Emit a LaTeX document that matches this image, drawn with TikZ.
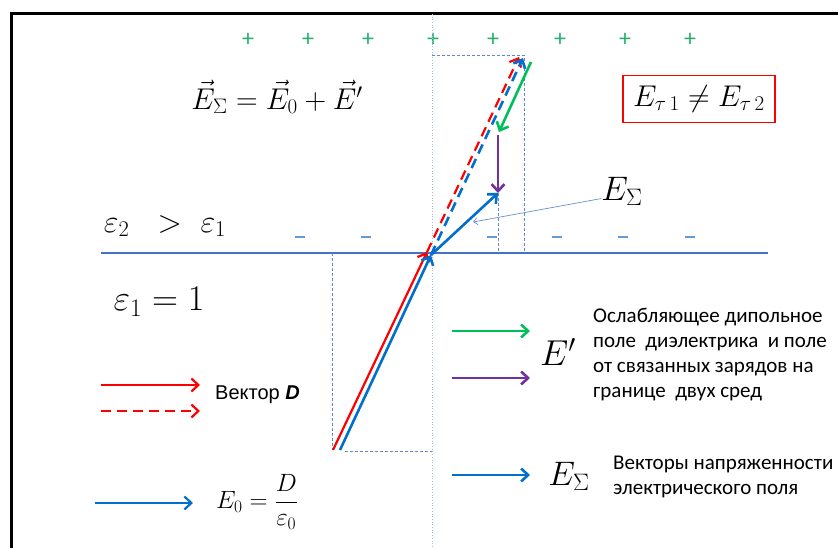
\RequirePackage{fix-cm}
\documentclass[tikz,border=0pt]{standalone}
\usepackage{fontspec}
\usepackage{amsmath}
\usetikzlibrary{arrows.meta,positioning}
\newfontfamily\calibfont{Carlito}
\newfontfamily\arialfont{Liberation Sans}
\definecolor{vecred}{RGB}{255,0,0}
\definecolor{vecblue}{RGB}{0,112,204}
\definecolor{vecgreen}{RGB}{0,190,90}
\definecolor{vecpurple}{RGB}{112,48,160}
\definecolor{lineblue}{RGB}{68,114,196}
\definecolor{plusgreen}{RGB}{40,175,110}
\definecolor{minusblue}{RGB}{100,155,215}

\begin{document}
\begin{tikzpicture}[x=1pt, y=-1pt,
    vec/.style={-{Straight Barb[length=7pt,width=13pt]}, line width=2.6pt},
    dvec/.style={vec, dash pattern=on 10pt off 6pt},
    guide/.style={lineblue!85, dash pattern=on 3pt off 2pt, line width=0.8pt},
    pointer/.style={-{Straight Barb[length=4pt,width=7pt]}, lineblue!80, line width=0.7pt},
    bigmath/.style={font=\fontsize{30}{36}\selectfont, inner sep=0pt},
    charge/.style={font=\calibfont\fontsize{24}{24}\selectfont, inner sep=0pt},
    legtext/.style={font=\calibfont\fontsize{21}{25}\selectfont, align=left, inner sep=0pt, anchor=north west}
]
\useasboundingbox (0,0) rectangle (838,548);
\draw[line width=3pt] (11,548) -- (11,14) -- (838,14);

% charges
\foreach \x in {248,308,368,433,493,560,625,690}
    \node[charge, plusgreen] (plus\x) at (\x,40) {+};
\foreach \x in {300,366,492,557,623,690}
    \draw[minusblue, line width=2pt] (\x-5,237) -- (\x+5,237);

% interface and normal
\draw[lineblue, line width=1.5pt] (101,253) -- (768,253);
\draw[lineblue!50, dotted, line width=0.7pt] (432,14) -- (432,548);

\coordinate (O) at (431,255);
\coordinate (Dmid) at (427,252);
\coordinate (Dbot) at (333,450);
\coordinate (Ebot) at (340,450);
\coordinate (Dtop) at (519,57);
\coordinate (Etop) at (523,58);
\coordinate (Gstart) at (531,62);
\coordinate (Gend) at (499,132);
\coordinate (Pstart) at (498,135);
\coordinate (Pend) at (498,193);

\draw[guide] (432,55) -- (524,55) -- (524,253);
\draw[guide] (Pend) -- (498,253);
\draw[guide] (332,253) -- (332,450);
\draw[guide] (345,451) -- (432,451);

\draw[vec, vecred, line width=2.2pt] (Dbot) -- (Dmid);
\draw[vec, vecblue] (Ebot) -- (O);
\draw[dvec, vecred, line width=2.2pt] (Dmid) -- (Dtop);
\draw[dvec, vecblue] (O) -- (Etop);
\draw[vec, vecgreen] (Gstart) -- (Gend);
\draw[vec, vecpurple] (Pstart) -- (Pend);
\draw[vec, vecblue] (O) -- (Pend);

\node[bigmath] (sumeq) at (277,97) {$\vec{E}_{\Sigma} = \vec{E}_0 + \vec{E}'$};
\node[draw=vecred, line width=1.8pt, minimum width=152pt, minimum height=47pt, font=\fontsize{30}{36}\selectfont] (tauneq) at (699,99) {$E_{\tau\,1} \neq E_{\tau\,2}$};
\node[bigmath, font=\fontsize{34}{40}\selectfont] (esum) at (622,191) {$E_{\Sigma}$};
\coordinate (ptr) at (473,222);
\draw[pointer] (esum.200) -- (ptr);

\node[bigmath, font=\fontsize{32}{38}\selectfont] (epsrel) at (165,226) {$\varepsilon_2\ \ >\ \varepsilon_1$};
\node[bigmath, font=\fontsize{36}{40}\selectfont] (epsone) at (159,302) {$\varepsilon_1 = 1$};

% legend
\draw[vec, vecred, line width=2.2pt] (101,385) -- (200,385);
\draw[dvec, vecred, line width=2.2pt] (101,411) -- (200,411);
\node[font=\arialfont\fontsize{20}{24}\selectfont, anchor=west, inner sep=0pt] (dlabel) at (215,395) {Вектор \textbf{\textit{D}}};
\draw[vec, vecblue, line width=2.2pt] (95,503) -- (193,503);
\node[font=\fontsize{25}{30}\selectfont, inner sep=0pt] (e0def) at (257,502) {$E_0 = \dfrac{D}{\varepsilon_0}$};

\draw[vec, vecgreen] (452,331) -- (530,331);
\draw[vec, vecpurple] (452,378) -- (530,378);
\draw[vec, vecblue] (452,475) -- (530,475);
\node[bigmath, font=\fontsize{36}{40}\selectfont] (eprime) at (558,352) {$E'$};
\node[legtext] (eptext) at (593,308) {Ослабляющее дипольное\\поле \ диэлектрика \ и поле\\от связанных зарядов на\\границе \ двух сред};
\node[bigmath, font=\fontsize{34}{40}\selectfont] (esumleg) at (569,476) {$E_{\Sigma}$};
\node[legtext] (esumtext) at (613,456) {Векторы напряженности\\электрического поля};
\end{tikzpicture}
\end{document}
